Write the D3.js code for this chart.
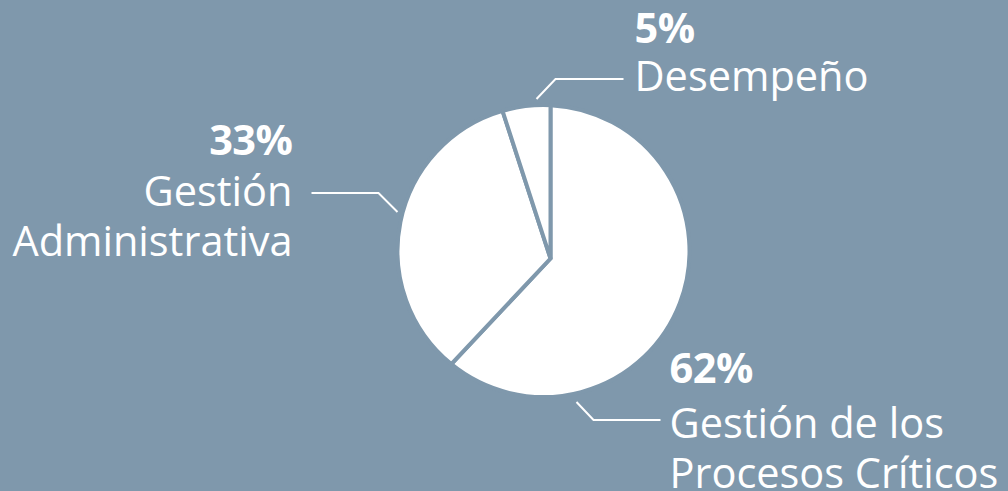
<!DOCTYPE html>
<html>
<head>
<meta charset="utf-8">
<script src="https://cdn.jsdelivr.net/npm/d3@7"></script>
<style>
  html, body { margin: 0; padding: 0; background: #7f98ac; }
  svg { display: block; }
  text { font-family: "Open Sans", sans-serif; fill: #ffffff; }
</style>
</head>
<body>
<svg id="chart" width="1008" height="491"></svg>
<script>
// ---- data ----
const categories = ["Gestión de los Procesos Críticos", "Gestión Administrativa", "Desempeño"];
const values = [62, 33, 5];
const percentLabels = ["62%", "33%", "5%"];
const nameLines = [["Gestión de los", "Procesos Críticos"], ["Gestión", "Administrativa"], ["Desempeño"]];

// ---- layout ----
const W = 1008, H = 491;
const bg = "#7f98ac";
const C = { x: 543.5, y: 251 };   // circle centre
const V = { x: 550.5, y: 258.5 }; // common vertex of the slices
const R = 146;

const svg = d3.select("#chart");
svg.append("rect").attr("width", W).attr("height", H).attr("fill", bg);

const pie = d3.pie().sort(null).value(d => d)(values);

// point where a ray from V at angle a (clockwise from top) meets the circle
function rim(a) {
  const dx = Math.sin(a), dy = -Math.cos(a);
  const ox = V.x - C.x, oy = V.y - C.y;
  const b = dx * ox + dy * oy;
  const c = ox * ox + oy * oy - R * R;
  const t = -b + Math.sqrt(b * b - c);
  return [V.x + t * dx, V.y + t * dy];
}
function slicePath(d) {
  const p0 = rim(d.startAngle), p1 = rim(d.endAngle);
  const t0 = Math.atan2(p0[0] - C.x, -(p0[1] - C.y));
  let t1 = Math.atan2(p1[0] - C.x, -(p1[1] - C.y));
  let span = t1 - t0;
  while (span < 0) span += 2 * Math.PI;
  const large = span > Math.PI ? 1 : 0;
  return `M${V.x},${V.y}L${p0[0]},${p0[1]}A${R},${R} 0 ${large} 1 ${p1[0]},${p1[1]}Z`;
}

svg.append("g").selectAll("path").data(pie).join("path")
  .attr("d", slicePath)
  .attr("fill", "#ffffff")
  .attr("stroke", bg)
  .attr("stroke-width", 4)
  .attr("stroke-linejoin", "miter");

// label layout per slice (offsets relative to circle centre)
const layout = [
  { leader: [[33, 151], [50, 169], [117, 169]], anchor: "start", x: 126, pctY: 132, nameY: 187 },
  { leader: [[-146, -39], [-165, -58], [-232, -58]], anchor: "end", x: -251, pctY: -96, nameY: -45 },
  { leader: [[-7, -152], [12, -172], [80, -172]], anchor: "start", x: 91, pctY: -208, nameY: -160 }
];

const lines = d3.line().x(p => C.x + p[0]).y(p => C.y + p[1]);
const g = svg.append("g");
pie.forEach((d, i) => {
  const L = layout[i];
  g.append("path").attr("d", lines(L.leader))
    .attr("fill", "none").attr("stroke", "#ffffff").attr("stroke-width", 2);
  g.append("text")
    .attr("x", C.x + L.x).attr("y", C.y + L.pctY)
    .attr("text-anchor", L.anchor)
    .attr("font-size", 41.5).attr("font-weight", 700)
    .attr("letter-spacing", -0.5)
    .text(percentLabels[i]);
  nameLines[i].forEach((s, j) => {
    g.append("text")
      .attr("x", C.x + L.x).attr("y", C.y + L.nameY + j * 50)
      .attr("text-anchor", L.anchor)
      .attr("font-size", 41.5)
      .text(s);
  });
});
</script>
</body>
</html>
